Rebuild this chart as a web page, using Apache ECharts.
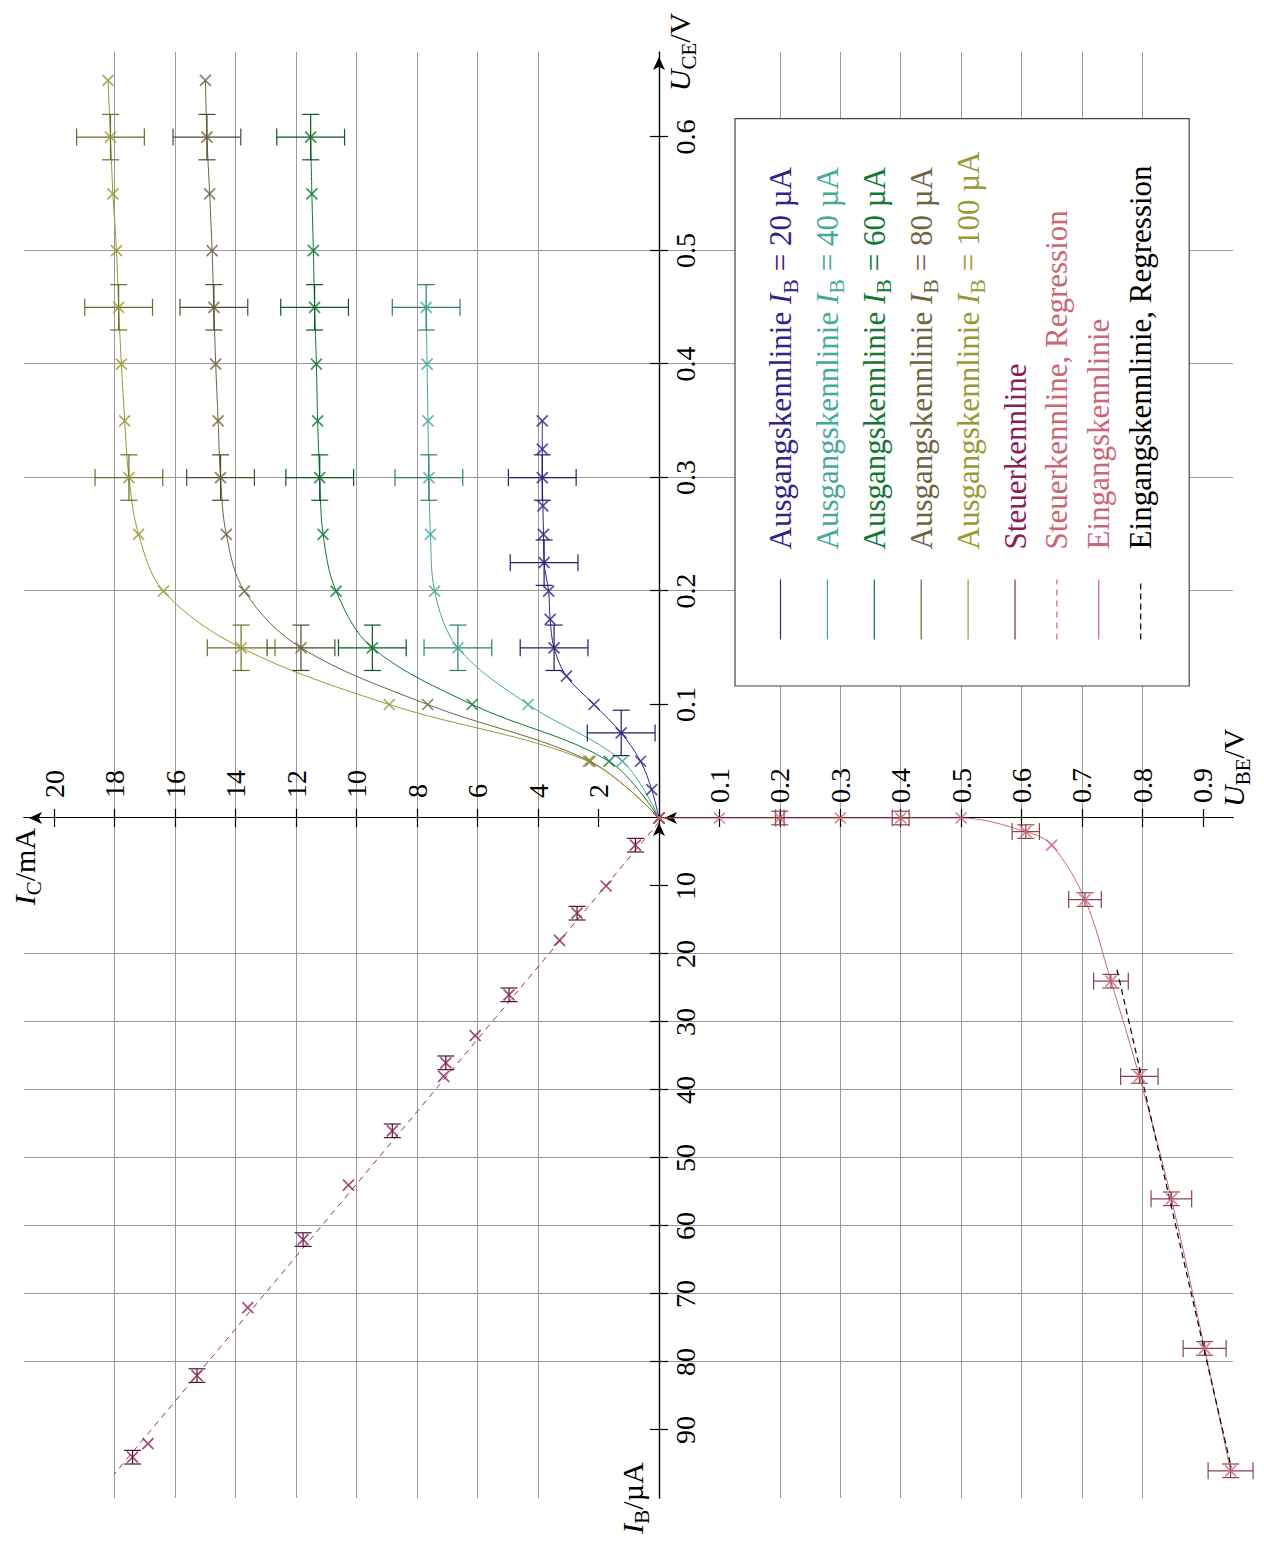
<!DOCTYPE html>
<html>
<head>
<meta charset="utf-8">
<script src="https://cdn.jsdelivr.net/npm/echarts@6/dist/echarts.min.js"></script>
<style>
html,body{margin:0;padding:0;overflow:hidden;background:#fff;width:1264px;height:1545px}
#wrap{position:absolute;left:0;top:0;width:1545px;height:1264px;transform-origin:0 0;transform:translate(0,1545px) rotate(-90deg)}
#chart{width:1545px;height:1264px}
</style>
</head>
<body>
<div id="wrap"><div id="chart"></div></div>
<script>
// ---------- tick labels ----------
const UCE_TICKS = [0.1, 0.2, 0.3, 0.4, 0.5, 0.6];
const IC_TICKS = [2, 4, 6, 8, 10, 12, 14, 16, 18, 20];
const UBE_TICKS = [0.1, 0.2, 0.3, 0.4, 0.5, 0.6, 0.7, 0.8, 0.9];
const IB_TICKS = [10, 20, 30, 40, 50, 60, 70, 80, 90];

// ---------- Ausgangskennlinien (U_CE in V, I_C in mA) ----------
const UCE_20 = [0, 0.025, 0.05, 0.075, 0.1, 0.125, 0.15, 0.175, 0.2, 0.225, 0.25, 0.275, 0.3, 0.325, 0.35];
const IC_20  = [0, 0.24, 0.61, 1.25, 2.15, 3.06, 3.47, 3.60, 3.65, 3.80, 3.82, 3.84, 3.86, 3.86, 3.86];
const EB_20  = [0, 0, 0, 1, 0, 0, 1, 0, 0, 1, 0, 0, 1, 0, 0];

const UCE_40 = [0, 0.05, 0.1, 0.15, 0.2, 0.25, 0.3, 0.35, 0.4, 0.45];
const IC_40  = [0, 1.21, 4.33, 6.65, 7.42, 7.56, 7.61, 7.64, 7.67, 7.70];
const EB_40  = [0, 0, 0, 1, 0, 0, 1, 0, 0, 1];

const UCE_60 = [0, 0.05, 0.1, 0.15, 0.2, 0.25, 0.3, 0.35, 0.4, 0.45, 0.5, 0.55, 0.6];
const IC_60  = [0, 1.65, 6.18, 9.48, 10.68, 11.11, 11.22, 11.29, 11.33, 11.39, 11.43, 11.48, 11.52];
const EB_60  = [0, 0, 0, 1, 0, 0, 1, 0, 0, 1, 0, 0, 1];

const UCE_80 = [0, 0.05, 0.1, 0.15, 0.2, 0.25, 0.3, 0.35, 0.4, 0.45, 0.5, 0.55, 0.6, 0.65];
const IC_80  = [0, 2.28, 7.65, 11.84, 13.71, 14.31, 14.50, 14.58, 14.66, 14.72, 14.78, 14.86, 14.95, 15.00];
const EB_80  = [0, 0, 0, 1, 0, 0, 1, 0, 0, 1, 0, 0, 1, 0];

const UCE_100 = [0, 0.05, 0.1, 0.15, 0.2, 0.25, 0.3, 0.35, 0.4, 0.45, 0.5, 0.55, 0.6, 0.65];
const IC_100  = [0, 2.34, 8.92, 13.82, 16.39, 17.21, 17.53, 17.67, 17.78, 17.87, 17.94, 18.06, 18.14, 18.22];
const EB_100  = [0, 0, 0, 1, 0, 0, 1, 0, 0, 1, 0, 0, 1, 0];

const ERR_UCE = 0.02;   // V
const ERR_IC = 1.12;    // mA

// ---------- Steuerkennlinie (I_B in µA, I_C in mA) ----------
const IB_ST = [0, 4, 10, 14, 18, 26, 32, 36, 38, 46, 54, 62, 72, 82, 92, 94];
const IC_ST = [0, 0.78, 1.75, 2.71, 3.29, 4.96, 6.08, 7.05, 7.12, 8.82, 10.27, 11.77, 13.60, 15.28, 16.90, 17.41];
const ERR_IB_ST = [0, 1, 0, 1, 0, 1, 0, 1, 0, 1, 0, 1, 0, 1, 0, 1];
const REG_ST_IB = [0.6, 96.5];
const REG_ST_IC = [0, 18.02];

// ---------- Eingangskennlinie (I_B in µA, U_BE in V) ----------
const IB_EIN  = [0, 0, 0, 0, 0, 0, 2, 4, 12, 24, 38, 56, 78, 96];
const UBE_EIN = [0, 0.1, 0.2, 0.3, 0.4, 0.5, 0.607, 0.650, 0.705, 0.748, 0.795, 0.848, 0.903, 0.946];
const ERR_UBE_EIN = [0, 0, 0.007, 0, 0.014, 0, 0.0226, 0, 0.027, 0.0287, 0.031, 0.0336, 0.0356, 0.0372];
const ERR_IB_EIN  = [0, 0, 1, 0, 1, 0, 1, 0, 1, 1, 1, 1, 1, 1];
const REG_EIN_IB  = [22.3, 95.5];
const REG_EIN_UBE = [0.758, 0.947];

// ---------- style ----------
const FONT = 'Liberation Serif';
const GRID_COLOR = '#9a9a9a';
const COL = {a20:'#332288', a40:'#44aa99', a60:'#117733', a80:'#6f6440', a100:'#999933',
             st:'#882255', stReg:'#96306a', stRegLeg:'#cc6677', ein:'#cc6677', einReg:'#000000'};
const ECOL = {a20:'#261a66', a40:'#2f7d70', a60:'#0b5526', a80:'#4f4830', a100:'#6d6d24', st:'#4d1230', ein:'#8c4250'};
const CROSS = 'path://M0,0L10,10M10,0L0,10';

function richStyles(size, lh, sub) {
  return {
    n: {fontFamily: FONT, fontSize: size, lineHeight: lh},
    i: {fontFamily: FONT, fontSize: size, lineHeight: lh, fontStyle: 'italic'},
    s: {fontFamily: FONT, fontSize: sub, lineHeight: sub, verticalAlign: 'bottom'}
  };
}
const AXN = richStyles(30, 40, 21);
const LEGR = richStyles(31, 41, 22);

function zip(a, b) { return a.map((v, i) => [v, b[i]]); }

function baseAxis(extra) {
  return Object.assign({
    type: 'value',
    axisLine: {show: false},
    axisTick: {show: false},
    axisLabel: {show: false},
    splitLine: {show: true, showMinLine: false, showMaxLine: false, lineStyle: {color: GRID_COLOR, width: 1}}
  }, extra);
}
const LINE = {show: true, onZero: false, lineStyle: {color: '#000', width: 1.2}};
const ARROW_LINE = {show: true, onZero: false, lineStyle: {color: '#000', width: 1.2},
                    symbol: ['none', 'arrow'], symbolSize: [9, 13], symbolOffset: [0, -5]};
function ticks(vals) { return {show: true, inside: true, length: 9, customValues: vals, lineStyle: {color: '#000', width: 1.2}}; }
function labels(vals, fmt, margin, inside) {
  return {show: true, customValues: vals, formatter: fmt, margin: margin, inside: inside,
          fontFamily: FONT, fontSize: 28, color: '#000'};
}

function errRender(color) {
  return function (params, api) {
    const x = api.value(0), y = api.value(1), ex = api.value(2), ey = api.value(3);
    const cap = 8.5, ch = [];
    const st = {stroke: color, lineWidth: 1.2};
    const ln = (x1, y1, x2, y2) => ({type: 'line', shape: {x1, y1, x2, y2}, style: st});
    if (ex > 0) {
      const p1 = api.coord([x - ex, y]), p2 = api.coord([x + ex, y]);
      ch.push(ln(p1[0], p1[1], p2[0], p2[1]));
      ch.push(ln(p1[0], p1[1] - cap, p1[0], p1[1] + cap));
      ch.push(ln(p2[0], p2[1] - cap, p2[0], p2[1] + cap));
    }
    if (ey > 0) {
      const q1 = api.coord([x, y - ey]), q2 = api.coord([x, y + ey]);
      ch.push(ln(q1[0], q1[1], q2[0], q2[1]));
      ch.push(ln(q1[0] - cap, q1[1], q1[0] + cap, q1[1]));
      ch.push(ln(q2[0] - cap, q2[1], q2[0] + cap, q2[1]));
    }
    return {type: 'group', children: ch};
  };
}

const NAMES = {
  a20: 'Ausgangskennlinie IB = 20 µA', a40: 'Ausgangskennlinie IB = 40 µA', a60: 'Ausgangskennlinie IB = 60 µA',
  a80: 'Ausgangskennlinie IB = 80 µA', a100: 'Ausgangskennlinie IB = 100 µA',
  st: 'Steuerkennline', stReg: 'Steuerkennline, Regression', ein: 'Eingangskennlinie', einReg: 'Eingangskennlinie, Regression'
};
const LEGEND_TEXT = {};
['20', '40', '60', '80', '100'].forEach(k => {
  LEGEND_TEXT[NAMES['a' + k]] = '{n|Ausgangskennlinie }{i|I}{s|B}{n| = ' + k + ' µA}';
});
LEGEND_TEXT[NAMES.st] = '{n|Steuerkennline}';
LEGEND_TEXT[NAMES.stReg] = '{n|Steuerkennline, Regression}';
LEGEND_TEXT[NAMES.ein] = '{n|Eingangskennlinie}';
LEGEND_TEXT[NAMES.einReg] = '{n|Eingangskennlinie, Regression}';

const series = [];
function output(key, uce, ic, eb) {
  series.push({name: NAMES[key], type: 'line', xAxisIndex: 0, yAxisIndex: 0, data: zip(uce, ic),
    smooth: 0.35, symbol: 'none', lineStyle: {color: COL[key], width: 1}, itemStyle: {color: COL[key]}, z: 3, silent: true});
  series.push({type: 'custom', xAxisIndex: 0, yAxisIndex: 0, renderItem: errRender(ECOL[key]), z: 4, silent: true,
    encode: {x: 0, y: 1},
    data: uce.map((u, i) => [u, ic[i], eb[i] * ERR_UCE, eb[i] * ERR_IC]).filter(r => r[2] > 0 || r[3] > 0)});
  series.push({type: 'scatter', xAxisIndex: 0, yAxisIndex: 0, data: zip(uce, ic), symbol: CROSS, symbolSize: 11,
    itemStyle: {color: 'rgba(0,0,0,0)', borderColor: COL[key], borderWidth: 1.7}, z: 5, silent: true});
}
output('a20', UCE_20, IC_20, EB_20);
output('a40', UCE_40, IC_40, EB_40);
output('a60', UCE_60, IC_60, EB_60);
output('a80', UCE_80, IC_80, EB_80);
output('a100', UCE_100, IC_100, EB_100);

// Steuerkennlinie (grid B)
series.push({name: NAMES.st, type: 'line', xAxisIndex: 1, yAxisIndex: 1, data: zip(IB_ST, IC_ST),
  symbol: 'none', lineStyle: {color: COL.st, width: 0}, itemStyle: {color: COL.st}, z: 3, silent: true});
series.push({name: NAMES.stReg, type: 'line', xAxisIndex: 1, yAxisIndex: 1, data: zip(REG_ST_IB, REG_ST_IC),
  symbol: 'none', lineStyle: {color: COL.stReg, width: 1, type: [6, 5]}, itemStyle: {color: COL.stReg}, z: 3, silent: true});
series.push({type: 'custom', xAxisIndex: 1, yAxisIndex: 1, renderItem: errRender(ECOL.st), z: 4, silent: true,
  encode: {x: 0, y: 1},
  data: IB_ST.map((b, i) => [b, IC_ST[i], ERR_IB_ST[i], 0]).filter(r => r[2] > 0)});
series.push({type: 'scatter', xAxisIndex: 1, yAxisIndex: 1, data: zip(IB_ST, IC_ST), symbol: CROSS, symbolSize: 11,
  itemStyle: {color: 'rgba(0,0,0,0)', borderColor: COL.st, borderWidth: 1.7}, z: 5, silent: true});

// Eingangskennlinie (grid C)
series.push({name: NAMES.ein, type: 'line', xAxisIndex: 2, yAxisIndex: 2, data: zip(IB_EIN, UBE_EIN),
  smooth: 0.35, symbol: 'none', lineStyle: {color: COL.ein, width: 1}, itemStyle: {color: COL.ein}, z: 3, silent: true});
series.push({name: NAMES.einReg, type: 'line', xAxisIndex: 2, yAxisIndex: 2, data: zip(REG_EIN_IB, REG_EIN_UBE),
  symbol: 'none', lineStyle: {color: COL.einReg, width: 1.2, type: [6, 4]}, itemStyle: {color: COL.einReg}, z: 4, silent: true});
series.push({type: 'custom', xAxisIndex: 2, yAxisIndex: 2, renderItem: errRender(ECOL.ein), z: 4, silent: true,
  encode: {x: 0, y: 1},
  data: IB_EIN.map((b, i) => [b, UBE_EIN[i], ERR_IB_EIN[i], ERR_UBE_EIN[i]]).filter(r => r[2] > 0 || r[3] > 0)});
series.push({type: 'scatter', xAxisIndex: 2, yAxisIndex: 2, data: zip(IB_EIN, UBE_EIN), symbol: CROSS, symbolSize: 11,
  itemStyle: {color: 'rgba(0,0,0,0)', borderColor: COL.ein, borderWidth: 1.7}, z: 5, silent: true});

const legendKeys = ['a20', 'a40', 'a60', 'a80', 'a100', 'st', 'stReg', 'ein', 'einReg'];
const legendData = legendKeys.map(k => {
  const item = {name: NAMES[k], textStyle: {color: k === 'stReg' ? COL.stRegLeg : COL[k]}};
  if (k === 'stReg') item.lineStyle = {color: COL.stRegLeg};
  return item;
});

const option = {
  animation: false,
  backgroundColor: '#fff',
  textStyle: {fontFamily: FONT},
  grid: [
    {left: 727, top: 24, width: 766, height: 635, containLabel: false, outerBoundsMode: 'none'},
    {left: 47, top: 24, width: 680, height: 635, containLabel: false, outerBoundsMode: 'none'},
    {left: 47, top: 659, width: 680, height: 574, containLabel: false, outerBoundsMode: 'none'},
    {left: 727, top: 659, width: 766, height: 574, containLabel: false, outerBoundsMode: 'none'}
  ],
  xAxis: [
    baseAxis({gridIndex: 0, min: 0, max: 0.675, interval: 0.1, position: 'bottom', axisLine: ARROW_LINE,
      axisTick: ticks(UCE_TICKS), axisLabel: labels(UCE_TICKS, v => (+v).toFixed(1), 12, false),
      name: '{i|U}{s|CE}{n|/V}', nameLocation: 'end', nameGap: 0,
      nameTextStyle: {align: 'center', verticalAlign: 'top', padding: [0, 0, 0, 0], color: '#000', rich: AXN}}),
    baseAxis({gridIndex: 1, min: 0, max: 100, interval: 10, inverse: true, position: 'bottom', axisLine: LINE,
      axisTick: ticks(IB_TICKS)}),
    baseAxis({gridIndex: 2, min: 0, max: 100, interval: 10, inverse: true, position: 'top', axisLine: ARROW_LINE,
      axisTick: ticks(IB_TICKS), axisLabel: labels(IB_TICKS, v => String(v), 12, true),
      name: '{i|I}{s|B}{n|/µA}', nameLocation: 'end', nameGap: 0,
      nameTextStyle: {align: 'center', verticalAlign: 'bottom', padding: [0, 0, 7, 0], color: '#000', rich: AXN}}),
    baseAxis({gridIndex: 3, min: 0, max: 0.675, interval: 0.1, position: 'top', axisLine: LINE,
      axisTick: ticks(UCE_TICKS)})
  ],
  yAxis: [
    baseAxis({gridIndex: 0, min: 0, max: 21, interval: 2, position: 'left', axisLine: ARROW_LINE,
      axisTick: ticks(IC_TICKS), axisLabel: labels(IC_TICKS, v => String(v), 20, true),
      name: '{i|I}{s|C}{n|/mA}', nameLocation: 'end', nameGap: 0,
      nameTextStyle: {align: 'right', verticalAlign: 'middle', padding: [0, 10, 0, 0], color: '#000', rich: AXN}}),
    baseAxis({gridIndex: 1, min: 0, max: 21, interval: 2, position: 'right', axisLine: LINE,
      axisTick: ticks(IC_TICKS)}),
    baseAxis({gridIndex: 2, min: 0, max: 0.95, interval: 0.1, inverse: true, position: 'right', axisLine: ARROW_LINE,
      axisTick: ticks(UBE_TICKS), axisLabel: labels(UBE_TICKS, v => (+v).toFixed(1), 15, false),
      name: '{i|U}{s|BE}{n|/V}', nameLocation: 'end', nameGap: 0,
      nameTextStyle: {align: 'left', verticalAlign: 'middle', padding: [0, 0, 0, 11], color: '#000', rich: AXN}}),
    baseAxis({gridIndex: 3, min: 0, max: 0.95, interval: 0.1, inverse: true, position: 'left', axisLine: LINE,
      axisTick: ticks(UBE_TICKS)})
  ],
  legend: {
    orient: 'vertical', left: 859, top: 735, padding: [30, 33, 33, 46], itemGap: 10.9,
    itemWidth: 60, itemHeight: 14, backgroundColor: '#fff', borderColor: '#444', borderWidth: 1.2,
    selectedMode: false, itemStyle: {opacity: 0}, lineStyle: {width: 1.2},
    textStyle: {fontFamily: FONT, fontSize: 31, padding: [0, 0, 0, 25], rich: LEGR},
    formatter: name => LEGEND_TEXT[name],
    data: legendData
  },
  series: series
};

const chart = echarts.init(document.getElementById('chart'), null, {renderer: 'svg', width: 1545, height: 1264});
chart.setOption(option);
</script>
</body>
</html>
